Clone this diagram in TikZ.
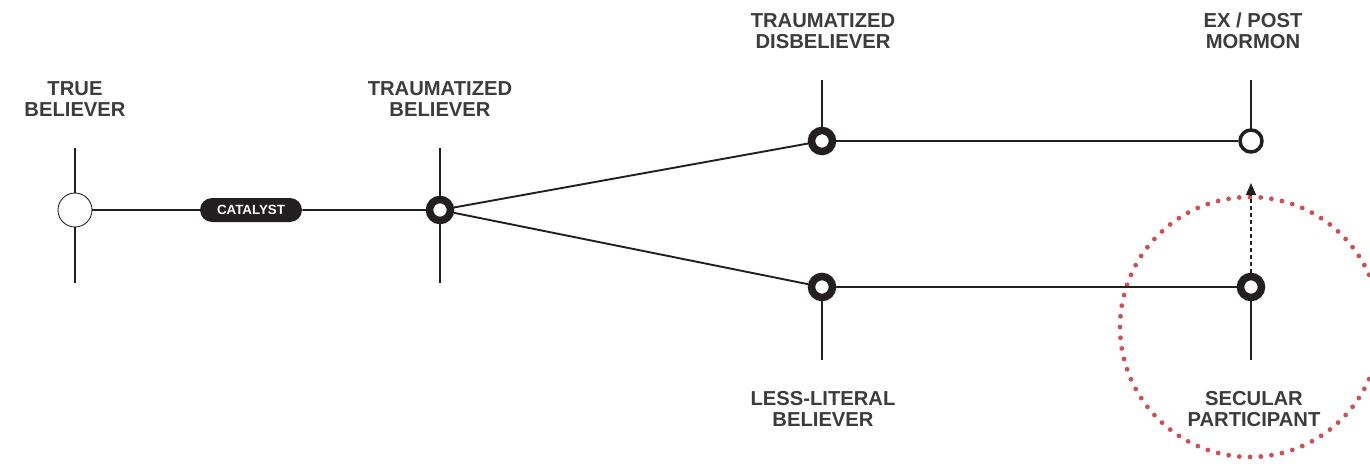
\documentclass[tikz,border=0pt]{standalone}
\usepackage{fontspec}
\setmainfont{Liberation Sans}
\usepackage{xcolor}
\usepackage{tikz}
\usetikzlibrary{arrows.meta, positioning, shapes.misc}
\definecolor{ink}{HTML}{231F20}
\definecolor{labelgray}{HTML}{3C3C3C}
\definecolor{dotred}{HTML}{E0464E}
\tikzstyle{openbig}  = [circle, draw=ink, line width=0.5pt, fill=white,
                        minimum size=0.68cm, inner sep=0pt]
\tikzstyle{openring} = [circle, draw=ink, line width=0.07cm, fill=white,
                        minimum size=0.44cm, inner sep=0pt]
\tikzstyle{darkring} = [circle, draw=ink, line width=0.15cm, fill=white,
                        minimum size=0.42cm, inner sep=0pt]
\tikzstyle{pill}     = [rounded rectangle, fill=ink, text=white,
                        minimum width=2.04cm, minimum height=0.48cm,
                        inner sep=0pt, font=\fontsize{7.6pt}{8pt}\selectfont\bfseries]
\tikzstyle{tag}      = [align=center, text=labelgray, inner sep=0pt,
                        font=\fontsize{11.5pt}{12pt}\selectfont\bfseries]
\tikzstyle{wire}     = [draw=ink, line width=0.038cm]

\begin{document}
\begin{tikzpicture}[x=0.02cm, y=-0.02cm]

  \useasboundingbox (0,0) rectangle (1370,467);

  %% Red focus circle
  \draw[dotred, line width=0.095cm, line cap=round, dash pattern=on 0pt off 0.215cm]
        (1250,327) circle (2.6cm);

  %% Stub ends
  \coordinate (tbtop) at (75,148);
  \coordinate (tbbot) at (75,283);
  \coordinate (trtop) at (440,148);
  \coordinate (trbot) at (440,283);
  \coordinate (tdtop) at (822,80);
  \coordinate (extop) at (1251,80);
  \coordinate (llbot) at (822,360);
  \coordinate (spbot) at (1251,360);

  %% Stubs
  \draw[wire] (tbtop) -- (tbbot);
  \draw[wire] (trtop) -- (trbot);
  \draw[wire] (tdtop) -- (822,141);
  \draw[wire] (extop) -- (1251,141);
  \draw[wire] (822,287) -- (llbot);
  \draw[wire] (1251,287) -- (spbot);

  %% Stages
  \node[openbig]  (true)   at (75,210)   {};
  \node[pill]     (cat)    at (251,210)  {CATALYST};
  \node[darkring] (trbel)  at (440,210)  {};
  \node[darkring] (trdis)  at (822,141)  {};
  \node[openring] (expost) at (1251,141) {};
  \node[darkring] (lessl)  at (822,287)  {};
  \node[darkring] (secul)  at (1251,287) {};

  %% Labels
  \node[tag] (truelbl)  at (75,99)    {TRUE\\BELIEVER};
  \node[tag] (trbellbl) at (440,99)   {TRAUMATIZED\\BELIEVER};
  \node[tag] (trdislbl) at (823,31)   {TRAUMATIZED\\DISBELIEVER};
  \node[tag] (exlbl)    at (1253,31)  {EX / POST\\MORMON};
  \node[tag] (lesslbl)  at (823,409)  {LESS-LITERAL\\BELIEVER};
  \node[tag] (secullbl) at (1254,409) {SECULAR\\PARTICIPANT};

  %% Paths
  \draw[wire] (true) -- (cat);
  \draw[wire] (cat) -- (trbel);
  \draw[wire] (trbel) -- (trdis);
  \draw[wire] (trbel) -- (lessl);
  \draw[wire] (trdis) -- (expost);
  \draw[wire] (lessl) -- (secul);
  \draw[ink, line width=0.03cm, dash pattern=on 0.08cm off 0.06cm,
        -{Triangle[length=0.24cm, width=0.2cm]}]
        (secul) -- (1251,183);

\end{tikzpicture}
\end{document}
